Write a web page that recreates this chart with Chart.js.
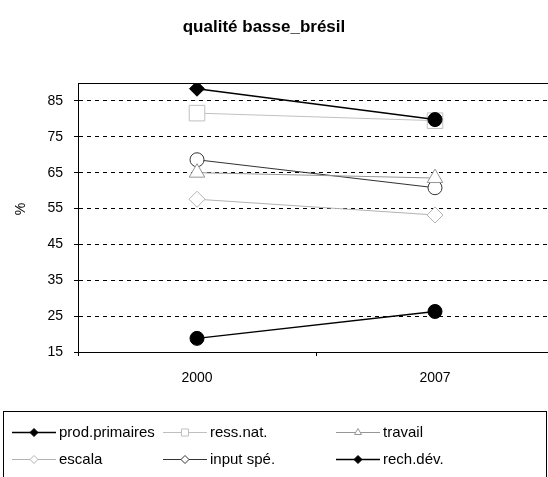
<!DOCTYPE html>
<html>
<head>
<meta charset="utf-8">
<script src="https://cdn.jsdelivr.net/npm/chart.js@4/dist/chart.umd.min.js"></script>
<style>
  html, body { margin: 0; padding: 0; background: #fff; overflow: hidden; }
  #wrap { width: 600px; height: 477px; }
</style>
</head>
<body>
<div id="wrap"><canvas id="chart" width="600" height="477"></canvas></div>
<script>
const years = ['2000', '2007'];
const prodPrimaires = [88.4, 79.8];
const ressNat = [81.6, 79.5];
const travail = [65.0, 63.5];
const escala = [57.6, 53.2];
const inputSpe = [68.6, 60.8];
const rechDev = [18.8, 26.3];
const yTicks = [15, 25, 35, 45, 55, 65, 75, 85];

const FONT = 'Arial, "Liberation Sans", sans-serif';

function series(label, data, color, lineWidth, pointStyle, radius, filled) {
  return {
    label: label,
    data: data,
    borderColor: color,
    borderWidth: lineWidth,
    pointStyle: pointStyle,
    pointRadius: radius,
    pointBorderWidth: 1,
    pointBorderColor: color,
    pointBackgroundColor: filled ? color : '#fff',
    tension: 0,
  };
}

const datasets = [
  series('prod.primaires', prodPrimaires, '#000', 1.5, ['rectRot', 'circle'], [7.5, 7], true),
  series('ress.nat.', ressNat, '#c0c0c0', 1, 'rect', 11, false),
  series('travail', travail, '#969696', 1, 'triangle', 9, false),
  series('escala', escala, '#b2b2b2', 1, 'rectRot', 8, false),
  series('input spé.', inputSpe, '#333', 1.2, 'circle', 7, false),
  series('rech.dév.', rechDev, '#000', 1.5, 'circle', 7, true),
];

// small legend markers, same order as the series
const legendStyles = ['rectRot', 'rect', 'triangle', 'rectRot', 'rectRot', 'rectRot'];

const decorations = {
  id: 'decorations',
  afterDraw(chart) {
    const ctx = chart.ctx;
    const area = chart.chartArea;
    ctx.save();

    // plot frame
    ctx.strokeStyle = '#000';
    ctx.lineWidth = 1;
    ctx.strokeRect(Math.round(area.left) + 0.5, Math.round(area.top) + 0.5,
      Math.round(area.right - area.left), Math.round(area.bottom - area.top));

    // title
    ctx.fillStyle = '#000';
    ctx.font = 'bold 17px ' + FONT;
    ctx.textAlign = 'center';
    ctx.textBaseline = 'middle';
    ctx.fillText('qualité basse_brésil', 264, 27);

    // y axis label
    ctx.save();
    ctx.translate(21, 209);
    ctx.rotate(-Math.PI / 2);
    ctx.font = '14px ' + FONT;
    ctx.fillText('%', 0, 0);
    ctx.restore();

    // legend box
    ctx.strokeRect(3.5, 411.5, 543, 100);
    const cols = [12, 163, 336];
    const rows = [432, 459];
    const lineLen = 44;
    ctx.font = '15px ' + FONT;
    ctx.textAlign = 'left';
    chart.data.datasets.forEach((ds, i) => {
      const x = cols[i % 3];
      const y = rows[Math.floor(i / 3)];
      ctx.strokeStyle = ds.borderColor;
      ctx.lineWidth = ds.borderWidth;
      ctx.beginPath();
      ctx.moveTo(x, y + 0.5);
      ctx.lineTo(x + lineLen, y + 0.5);
      ctx.stroke();
      ctx.lineWidth = 1;
      ctx.fillStyle = ds.pointBackgroundColor;
      Chart.helpers.drawPoint(ctx, {
        pointStyle: legendStyles[i],
        radius: legendStyles[i] === 'rect' ? 5 : 4,
        rotation: 0,
        borderWidth: 1,
      }, x + lineLen / 2, y + 0.5);
      ctx.fillStyle = '#000';
      ctx.fillText(ds.label, x + lineLen + 3, y + 1);
    });

    ctx.restore();
  }
};

new Chart(document.getElementById('chart'), {
  type: 'line',
  data: { labels: years, datasets: datasets },
  options: {
    responsive: false,
    animation: false,
    layout: { padding: { top: 83, right: 46, left: 0, bottom: 0 } },
    plugins: {
      legend: { display: false },
      title: { display: false },
      tooltip: { enabled: false },
    },
    scales: {
      x: {
        offset: true,
        afterFit: (s) => { s.height = 125; },
        ticks: { color: '#000', font: { family: FONT, size: 14 }, padding: 14, maxRotation: 0 },
        grid: { offset: true, drawOnChartArea: false, color: '#000', tickLength: 4 },
        border: { color: '#000', width: 1 },
      },
      y: {
        min: 15,
        max: 90,
        afterBuildTicks: (s) => { s.ticks = yTicks.map((v) => ({ value: v })); },
        afterFit: (s) => { s.width = 78; },
        ticks: { color: '#000', font: { family: FONT, size: 14 }, padding: 11 },
        grid: { color: '#000', tickLength: 4, lineWidth: 1 },
        border: { color: '#000', width: 1, dash: [4, 4] },
      },
    },
  },
  plugins: [decorations],
});
</script>
</body>
</html>
